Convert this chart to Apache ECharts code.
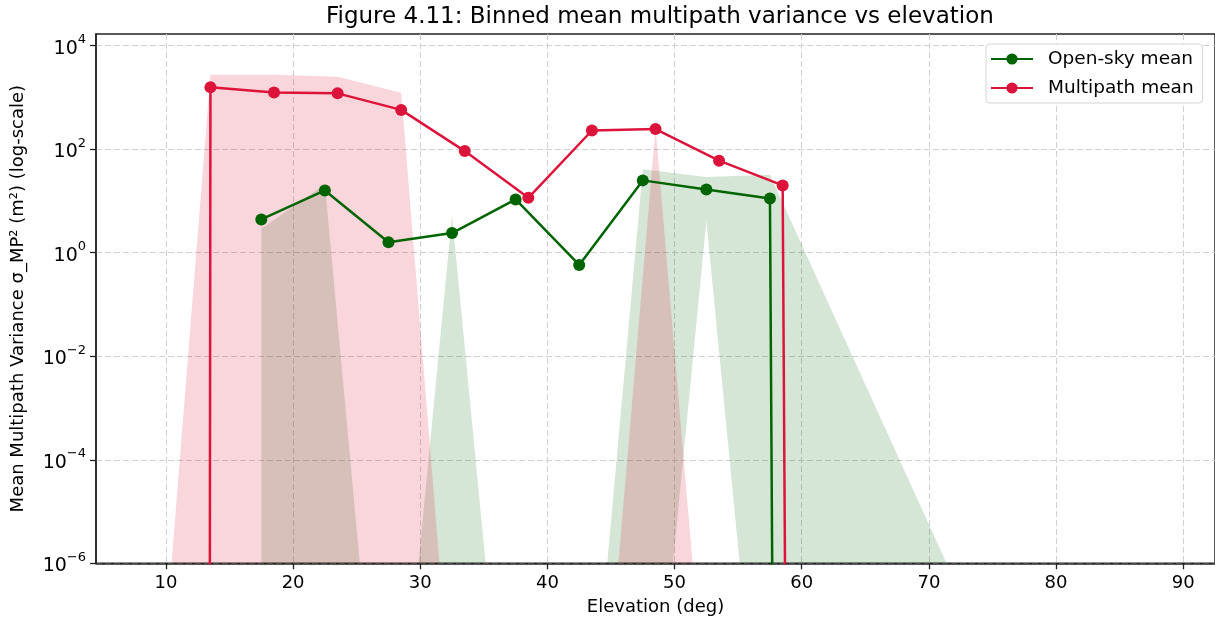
<!DOCTYPE html>
<html>
<head>
<meta charset="utf-8">
<script src="https://cdn.jsdelivr.net/npm/echarts@6/dist/echarts.min.js"></script>
<style>
html,body{margin:0;padding:0;background:#ffffff;}
#chart{width:1215px;height:628px;}
</style>
</head>
<body>
<div id="chart"></div>
<script>
// ---------------- data ----------------
const titleText = 'Figure 4.11: Binned mean multipath variance vs elevation';
const xAxisName = 'Elevation (deg)';
const yAxisName = 'Mean Multipath Variance σ_MP² (m²) (log-scale)';
const xTicks = [10, 20, 30, 40, 50, 60, 70, 80, 90];
const yTickExps = [-6, -4, -2, 0, 2, 4];

// Open-sky (bin centres)
const openX    = [17.5, 22.5, 27.5, 32.5, 37.5, 42.5, 47.5, 52.5, 57.5, 82.5];
const openMean = [4.4, 16, 1.6, 2.4, 10.7, 0.58, 25, 16.7, 11.2, 0];
const openLow  = [1e-12, 1e-12, 1e-12, 1e-12, 1e-12, 1e-12, 1e-12, 4.1, 1e-12, 1e-12];
const openHigh = [2.9, 21, 1e-12, 5.3, 1e-12, 1e-12, 41, 29, 32, 1e-12];

// Multipath (bin centres + 1)
const multiX    = [8.5, 13.5, 18.5, 23.5, 28.5, 33.5, 38.5, 43.5, 48.5, 53.5, 58.5, 83.5];
const multiMean = [0, 1580, 1250, 1200, 575, 92, 11.5, 230, 245, 60, 20, 0];
const multiLow  = [1e-12, 1e-12, 1e-12, 1e-12, 1e-12, 1e-12, 1e-12, 1e-12, 1e-12, 1e-12, 1e-12, 1e-12];
const multiHigh = [1e-12, 2750, 2750, 2500, 1230, 1e-12, 1e-12, 1e-12, 260, 1e-12, 1e-12, 1e-12];

// ---------------- helpers ----------------
const FONT = 'DejaVu Sans';
const GREEN = '#006400';
const RED = '#dc143c';
// log10 scale; non-positive values are clipped far below the axis (as a log axis does)
function toLog(v) { return v > 0 ? Math.log10(v) : -1000; }

function band(xs, lo, hi, color, z) {
  return {
    type: 'custom',
    silent: true,
    clip: true,
    z: z,
    data: xs.map((x, i) => [x, toLog(hi[i])]),
    renderItem: function (params, api) {
      if (params.dataIndex !== 0) return null;
      const pts = [];
      for (let i = 0; i < xs.length; i++) pts.push(api.coord([xs[i], toLog(hi[i])]));
      for (let i = xs.length - 1; i >= 0; i--) pts.push(api.coord([xs[i], toLog(lo[i])]));
      const cs = params.coordSys;
      return {
        type: 'group',
        children: [{ type: 'polygon', shape: { points: pts }, style: { fill: color } }],
        clipPath: { type: 'rect', shape: { x: cs.x, y: cs.y, width: cs.width, height: cs.height } }
      };
    }
  };
}

function meanLine(name, xs, ys, color, z) {
  return {
    name: name,
    type: 'line',
    z: z,
    clip: true,
    symbol: 'circle',
    symbolSize: 12,
    showAllSymbol: true,
    lineStyle: { color: color, width: 2.5 },
    itemStyle: { color: color },
    emphasis: { disabled: true },
    data: xs.map((x, i) => [x, toLog(ys[i])])
  };
}

const chart = echarts.init(document.getElementById('chart'), null, { renderer: 'canvas' });
const gridLine = { show: true, lineStyle: { color: '#d0d0d0', width: 1, type: [6, 3] } };

chart.setOption({
  animation: false,
  backgroundColor: '#ffffff',
  title: {
    text: titleText,
    left: 321,
    top: 1,
    textStyle: { fontFamily: FONT, fontSize: 23, fontWeight: 'normal', color: '#000' }
  },
  legend: {
    data: ['Open-sky mean', 'Multipath mean'],
    orient: 'vertical',
    left: 986,
    top: 44,
    itemWidth: 42,
    itemHeight: 14,
    itemGap: 9,
    padding: [5, 9, 5, 4],
    backgroundColor: '#ffffff',
    borderColor: '#d6d6d6',
    borderWidth: 1,
    borderRadius: 4,
    textStyle: { fontFamily: FONT, fontSize: 18.5, color: '#000', lineHeight: 20, padding: [0, 0, 0, 10] }
  },
  grid: {
    left: 96, top: 34, width: 1120, height: 529.3,
    show: true, borderColor: '#222', borderWidth: 1.5, backgroundColor: 'transparent'
  },
  xAxis: {
    type: 'value',
    min: 4.5,
    max: 92.5,
    name: xAxisName,
    nameLocation: 'middle',
    nameGap: 35,
    nameTextStyle: { fontFamily: FONT, fontSize: 18, color: '#000' },
    axisLine: { show: true, onZero: false, lineStyle: { color: '#222', width: 1.5 } },
    axisTick: { show: true, length: 6, lineStyle: { color: '#222', width: 1.3 }, customValues: xTicks },
    axisLabel: { fontFamily: FONT, fontSize: 18, color: '#000', margin: 11, customValues: xTicks },
    splitLine: gridLine
  },
  yAxis: {
    type: 'value',
    min: -6,
    max: 4.226,
    name: yAxisName,
    nameLocation: 'middle',
    nameRotate: 90,
    nameGap: 69,
    nameTextStyle: { fontFamily: FONT, fontSize: 18, color: '#000' },
    axisLine: { show: true, onZero: false, lineStyle: { color: '#222', width: 1.5 } },
    axisTick: { show: true, length: 6, lineStyle: { color: '#222', width: 1.3 }, customValues: yTickExps },
    axisLabel: {
      margin: 10,
      customValues: yTickExps,
      formatter: function (v) {
        const e = v < 0 ? '\u2212' + (-v) : String(v);
        return '{b|10}{s|' + e + '}';
      },
      rich: {
        b: { fontFamily: FONT, fontSize: 19, color: '#000', verticalAlign: 'bottom', lineHeight: 19 },
        s: { fontFamily: FONT, fontSize: 13, color: '#000', verticalAlign: 'bottom', padding: [0, 0, 12, 0] }
      }
    },
    splitLine: gridLine
  },
  series: [
    band(openX, openLow, openHigh, 'rgba(0,100,0,0.16)', 1),
    band(multiX, multiLow, multiHigh, 'rgba(220,20,60,0.18)', 2),
    meanLine('Open-sky mean', openX, openMean, GREEN, 3),
    meanLine('Multipath mean', multiX, multiMean, RED, 4)
  ]
});
</script>
</body>
</html>
